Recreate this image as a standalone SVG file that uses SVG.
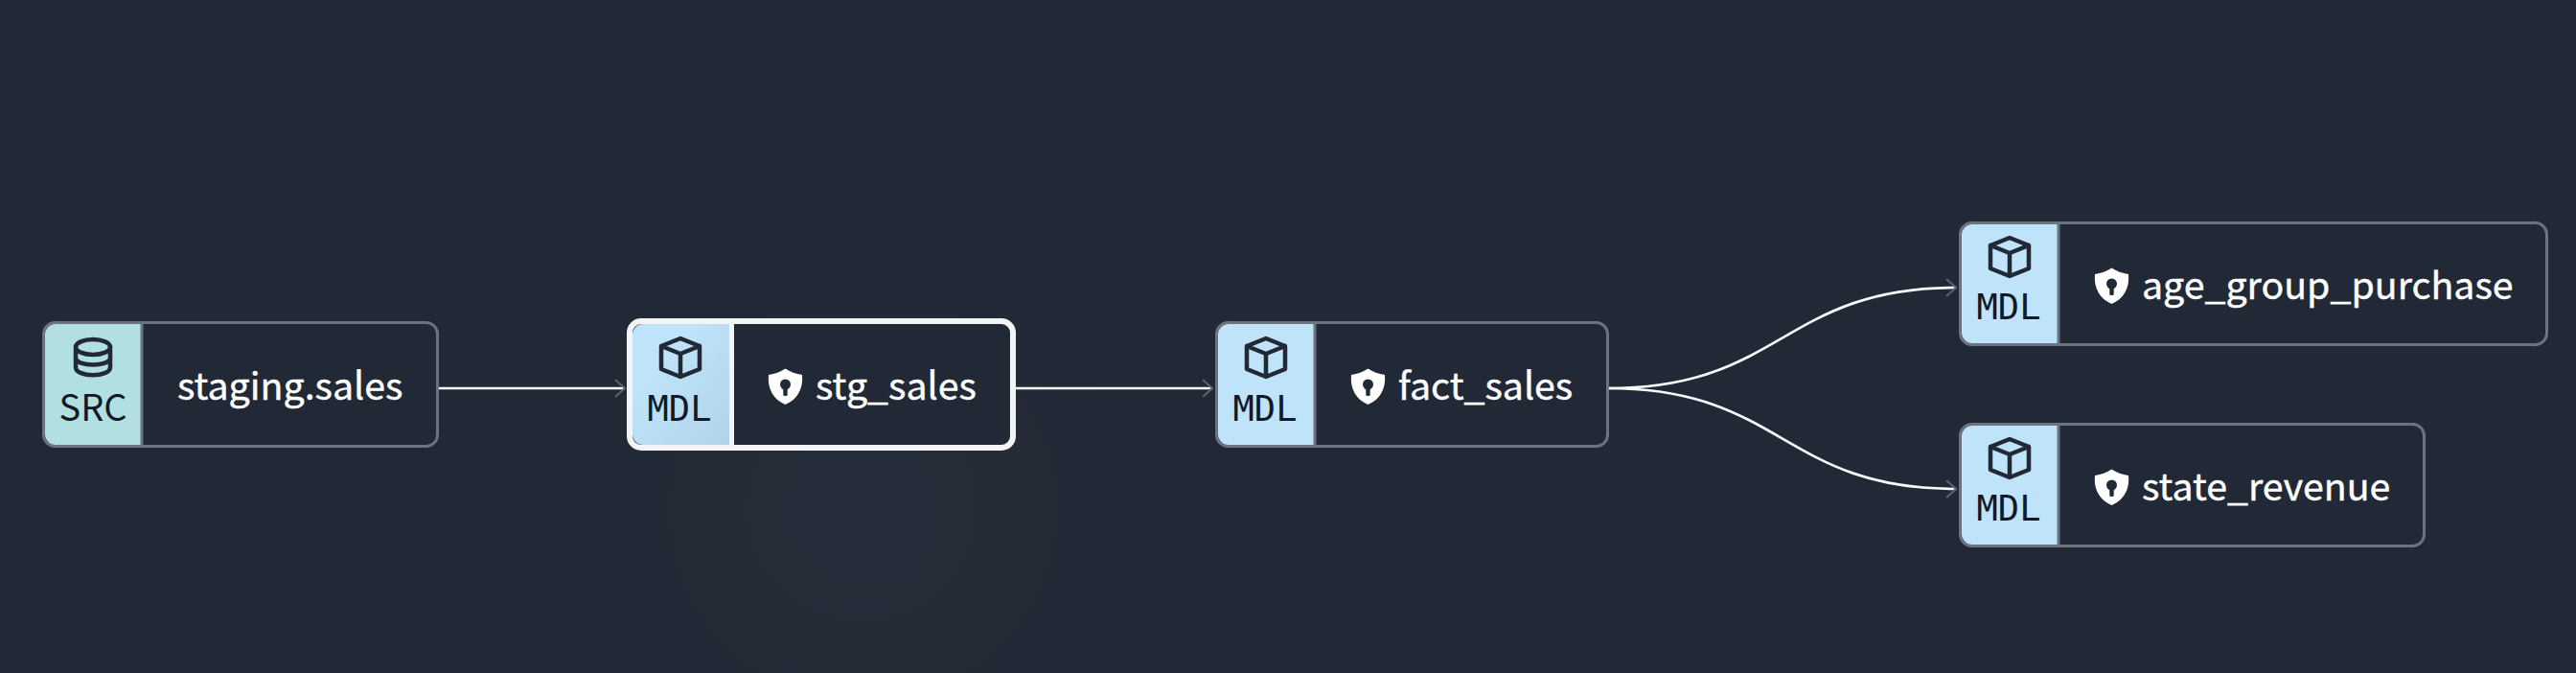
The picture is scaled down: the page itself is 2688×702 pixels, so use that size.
<svg xmlns="http://www.w3.org/2000/svg" width="2688" height="702" viewBox="0 0 2688 702">
<style>
.box{fill:#222936;stroke:#6b7280;stroke-width:3}
.src{fill:#b2dfdf}
.mdl{fill:#bfe3f9}
.div{stroke:#6b7280;stroke-width:3}
.kind{font-family:"DejaVu Sans Mono","Liberation Mono",monospace;font-size:37px;fill:#111827;text-anchor:middle}
.srck{font-family:"Noto Sans CJK SC","Noto Sans",sans-serif;font-size:38px;fill:#111827;text-anchor:middle}
.lbl{font-family:"Noto Sans CJK SC","Noto Sans",sans-serif;font-size:39.300px;fill:#fff;stroke:#fff;stroke-width:0.400}
.ico{fill:none;stroke:#222936;stroke-width:4.500;stroke-linejoin:round;stroke-linecap:round}
.edge{fill:none;stroke:#f9fafb;stroke-width:2.700;marker-end:url(#arr)}
</style>
<defs>
<radialGradient id="glow" cx="900" cy="530" r="330" gradientUnits="userSpaceOnUse"><stop offset="0" stop-color="#272e3b"/><stop offset="0.5" stop-color="#252c38"/><stop offset="1" stop-color="#222936" stop-opacity="0"/></radialGradient>
<linearGradient id="sel" x1="0" y1="0" x2="1" y2="1"><stop offset="0.3" stop-color="#bfe3f9"/><stop offset="1" stop-color="#b0d3ea"/></linearGradient>
<marker id="arr" markerUnits="userSpaceOnUse" markerWidth="14" markerHeight="22" refX="11" refY="11" orient="auto"><path d="M1 2L11 11L1 20" fill="none" stroke="#5a6476" stroke-width="2"/></marker>
<g id="cube"><path class="ico" d="M0 -20L20 -12V12L0 20L-20 12V-12ZM-20 -12L0 -4L20 -12M0 -4V20"/></g>
<g id="shield"><path fill="#fff" d="M0 -18.500C5 -15 11 -13 17.500 -12C19 3 12 14 0 19C-12 14 -19 3 -17.500 -12C-11 -13 -5 -15 0 -18.500Z"/><circle cx="0" cy="-2" r="5.500" fill="#222936"/><rect x="-2.200" y="-2" width="4.400" height="12" rx="1.500" fill="#222936"/></g>
</defs>
<rect width="2688" height="702" fill="#222936"/>
<rect width="2688" height="702" fill="url(#glow)"/>
<g id="connectors">
<path class="edge" d="M458 405H652"/>
<path class="edge" d="M1060 405H1265"/>
<path class="edge" d="M1678 405C1860 405 1860 300 2041 300"/>
<path class="edge" d="M1678 405C1860 405 1860 510 2041 510"/>
</g>
<g id="staging_sales">
<rect class="box" x="45.500" y="336.500" width="411" height="129" rx="12"/>
<path class="src" d="M147 338V464H58A11 11 0 0 1 47 453V349A11 11 0 0 1 58 338Z"/>
<line class="div" x1="148" y1="337" x2="148" y2="465"/>
<g class="ico"><ellipse cx="97" cy="362" rx="18" ry="8"/><path d="M79 362V383C79 394 115 394 115 383V362M79 373C79 383 115 383 115 373"/></g>
<text class="srck" x="97" y="439">SRC</text>
<text class="lbl" x="185" y="417">staging.sales</text>
</g>
<g id="stg_sales">
<rect x="657" y="335" width="400" height="132" rx="12" fill="#222936" stroke="#f3f4f6" stroke-width="6"/>
<path fill="url(#sel)" d="M761 338V464H671A11 11 0 0 1 660 453V349A11 11 0 0 1 671 338Z"/>
<line x1="763.500" y1="335" x2="763.500" y2="467" stroke="#f3f4f6" stroke-width="5"/>
<use href="#cube" x="710" y="373"/>
<text class="kind" x="709" y="439">MDL</text>
<use href="#shield" x="819.500" y="403"/>
<text class="lbl" x="851" y="417">stg_sales</text>
</g>
<g id="fact_sales">
<rect class="box" x="1269.500" y="336.500" width="408" height="129" rx="12"/>
<path class="mdl" d="M1371 338V464H1282A11 11 0 0 1 1271 453V349A11 11 0 0 1 1282 338Z"/>
<line class="div" x1="1372" y1="337" x2="1372" y2="465"/>
<use href="#cube" x="1321" y="373"/>
<text class="kind" x="1320" y="439">MDL</text>
<use href="#shield" x="1427.500" y="403"/>
<text class="lbl" x="1459" y="417">fact_sales</text>
</g>
<g id="age_group_purchase">
<rect class="box" x="2045.500" y="232.500" width="612" height="127" rx="12"/>
<path class="mdl" d="M2147 234V358H2058A11 11 0 0 1 2047 347V245A11 11 0 0 1 2058 234Z"/>
<line class="div" x1="2148" y1="233" x2="2148" y2="359"/>
<use href="#cube" x="2097" y="268"/>
<text class="kind" x="2096" y="333">MDL</text>
<use href="#shield" x="2203.500" y="298"/>
<text class="lbl" x="2235" y="312">age_group_purchase</text>
</g>
<g id="state_revenue">
<rect class="box" x="2045.500" y="442.500" width="484" height="127" rx="12"/>
<path class="mdl" d="M2147 444V568H2058A11 11 0 0 1 2047 557V455A11 11 0 0 1 2058 444Z"/>
<line class="div" x1="2148" y1="443" x2="2148" y2="569"/>
<use href="#cube" x="2097" y="478"/>
<text class="kind" x="2096" y="543">MDL</text>
<use href="#shield" x="2203.500" y="508"/>
<text class="lbl" x="2235" y="522">state_revenue</text>
</g>
</svg>
